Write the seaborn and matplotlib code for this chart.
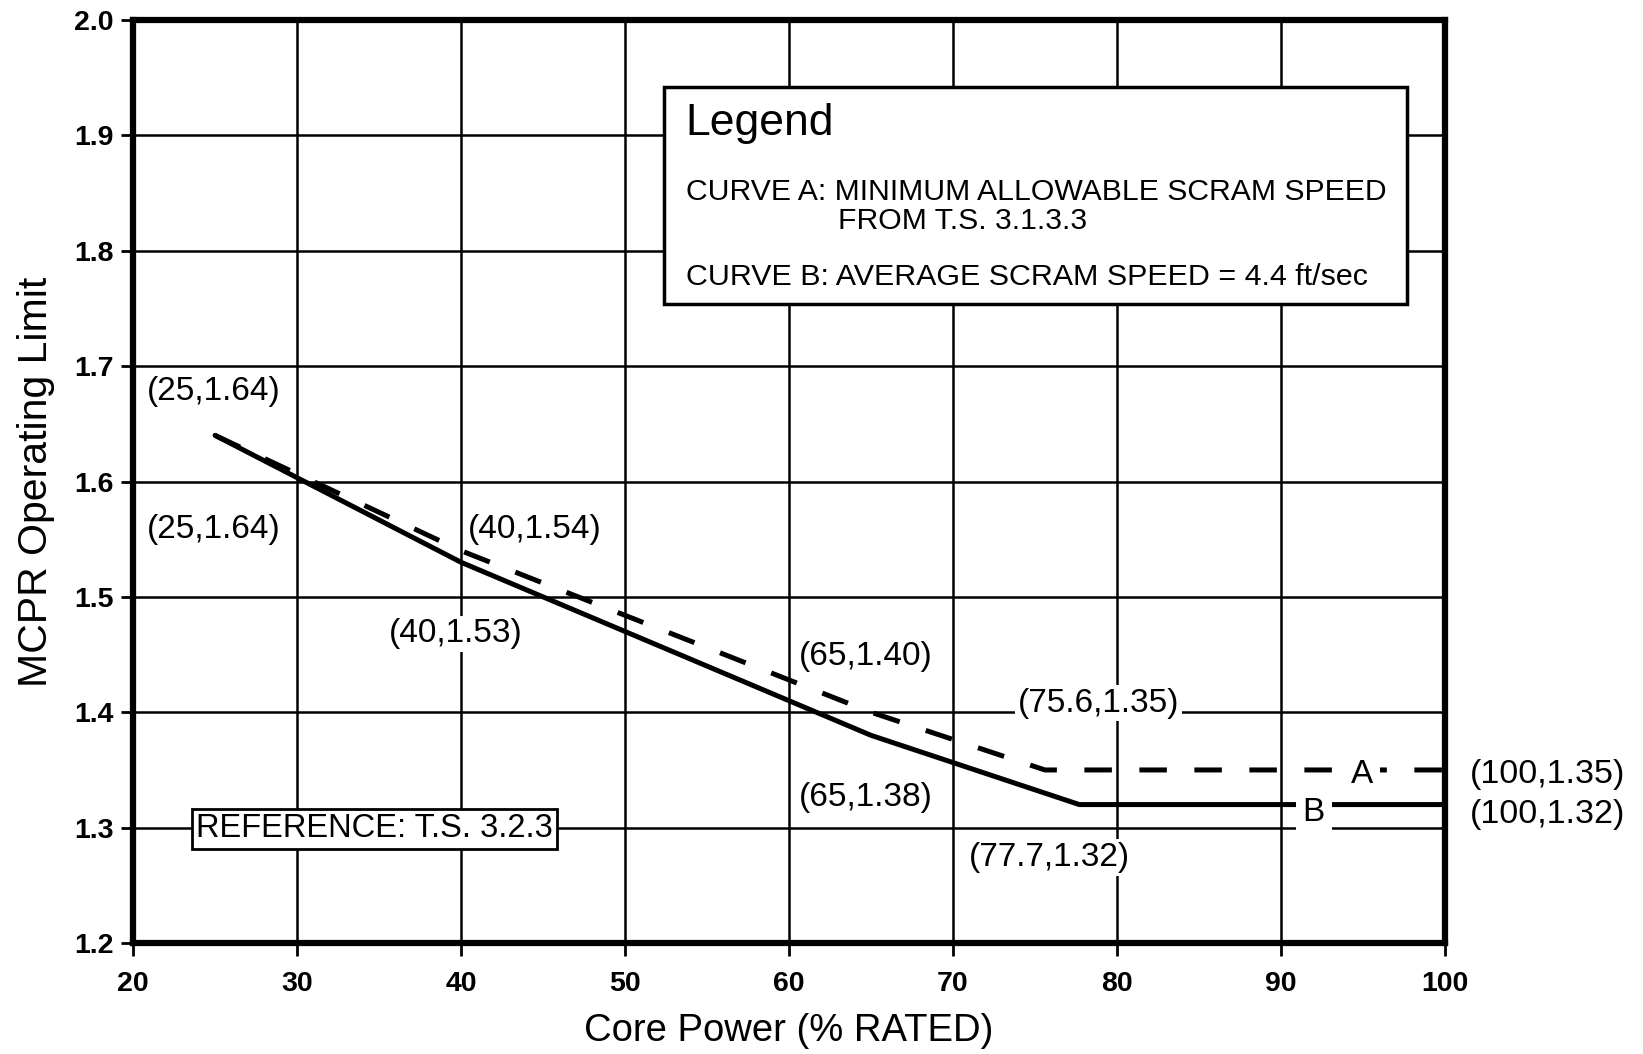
import pandas as pd
import seaborn as sns
import matplotlib.pyplot as plt
from matplotlib.patches import Rectangle

# Courbes MCPR
power_a = [25, 40, 65, 75.6, 100]
mcpr_a = [1.64, 1.54, 1.40, 1.35, 1.35]
power_b = [25, 40, 65, 77.7, 100]
mcpr_b = [1.64, 1.53, 1.38, 1.32, 1.32]

x_ticks = [20, 30, 40, 50, 60, 70, 80, 90, 100]
y_ticks = [1.2, 1.3, 1.4, 1.5, 1.6, 1.7, 1.8, 1.9, 2.0]

# Etiquettes des points et leur emplacement
point_labels = ["(25,1.64)", "(25,1.64)", "(40,1.54)", "(40,1.53)", "(65,1.40)",
                "(75.6,1.35)", "(65,1.38)", "(77.7,1.32)"]
label_x = [24.9, 24.9, 44.5, 39.7, 64.7, 78.85, 64.7, 75.9]
label_y = [1.678, 1.558, 1.558, 1.468, 1.448, 1.408, 1.326, 1.274]

legend_lines = ["CURVE A: MINIMUM ALLOWABLE SCRAM SPEED",
                "FROM T.S. 3.1.3.3",
                "CURVE B: AVERAGE SCRAM SPEED = 4.4 ft/sec"]

df_a = pd.DataFrame({"power": power_a, "mcpr": mcpr_a})
df_b = pd.DataFrame({"power": power_b, "mcpr": mcpr_b})

sns.set_theme(style="white")
plt.rcParams['font.family'] = ['Liberation Sans', 'DejaVu Sans']
plt.rcParams['text.color'] = 'black'
plt.rcParams['axes.labelcolor'] = 'black'
plt.rcParams['xtick.color'] = 'black'
plt.rcParams['ytick.color'] = 'black'

fig = plt.figure(figsize=(16.43, 10.54), dpi=100)
ax = fig.add_axes([0.081, 0.1053, 0.7985, 0.8757])

ax.grid(True, color="black", lw=1.8)
ax.set_axisbelow(True)

sns.lineplot(data=df_b, x="power", y="mcpr", ax=ax, color="black", lw=3.6, zorder=3)
sns.lineplot(data=df_a, x="power", y="mcpr", ax=ax, color="black", lw=3.6,
             linestyle=(0, (5.5, 5.5)), zorder=3)

ax.set_xlim(20, 100)
ax.set_ylim(1.2, 2.0)
ax.set_xticks(x_ticks)
ax.set_yticks(y_ticks)
ax.set_xticklabels([str(t) for t in x_ticks], fontsize=20.5, fontweight="bold")
ax.set_yticklabels([f"{t:.1f}" for t in y_ticks], fontsize=20.5, fontweight="bold")
ax.tick_params(axis="x", direction="out", length=9, width=2, bottom=True, pad=11)
ax.tick_params(axis="y", direction="out", length=9, width=2, left=True, pad=5)
for s in ax.spines.values():
    s.set_color("black")
    s.set_linewidth(4.5)
    s.set_zorder(5)

ax.set_xlabel("Core Power (% RATED)", fontsize=27.5, labelpad=12)
ax.set_ylabel("MCPR Operating Limit", fontsize=29.5, labelpad=14)

box = dict(facecolor="white", edgecolor="none", pad=2)
for txt, x, y in zip(point_labels, label_x, label_y):
    ax.text(x, y, txt, fontsize=24, ha="center", va="center", bbox=box, zorder=4)

# Etiquettes a droite, hors des axes
ax.text(101.5, 1.346, "(100,1.35)", fontsize=24.5, ha="left", va="center", clip_on=False)
ax.text(101.5, 1.311, "(100,1.32)", fontsize=24.5, ha="left", va="center", clip_on=False)

ax.text(94.95, 1.346, "A", fontsize=24, ha="center", va="center",
        bbox=dict(facecolor="white", edgecolor="none", pad=5), zorder=4)
ax.text(92.0, 1.313, "B", fontsize=24, ha="center", va="center",
        bbox=dict(facecolor="white", edgecolor="none", pad=5), zorder=4)

ax.text(34.7, 1.299, "REFERENCE: T.S. 3.2.3", fontsize=23.5, ha="center", va="center",
        bbox=dict(facecolor="white", edgecolor="black", lw=2, pad=3), zorder=4)

# Cadre de la legende
ax.add_patch(Rectangle((52.4, 1.754), 45.3, 0.188, facecolor="white",
                       edgecolor="black", lw=2.5, zorder=4))
ax.text(53.7, 1.910, "Legend", fontsize=32, ha="left", va="center", zorder=5)
ax.text(53.7, 1.851, legend_lines[0], fontsize=21.7, ha="left", va="center", zorder=5)
ax.text(63.0, 1.826, legend_lines[1], fontsize=21.7, ha="left", va="center", zorder=5)
ax.text(53.7, 1.777, legend_lines[2], fontsize=21.9, ha="left", va="center", zorder=5)

fig.savefig("out.png", dpi=100, facecolor="white")
